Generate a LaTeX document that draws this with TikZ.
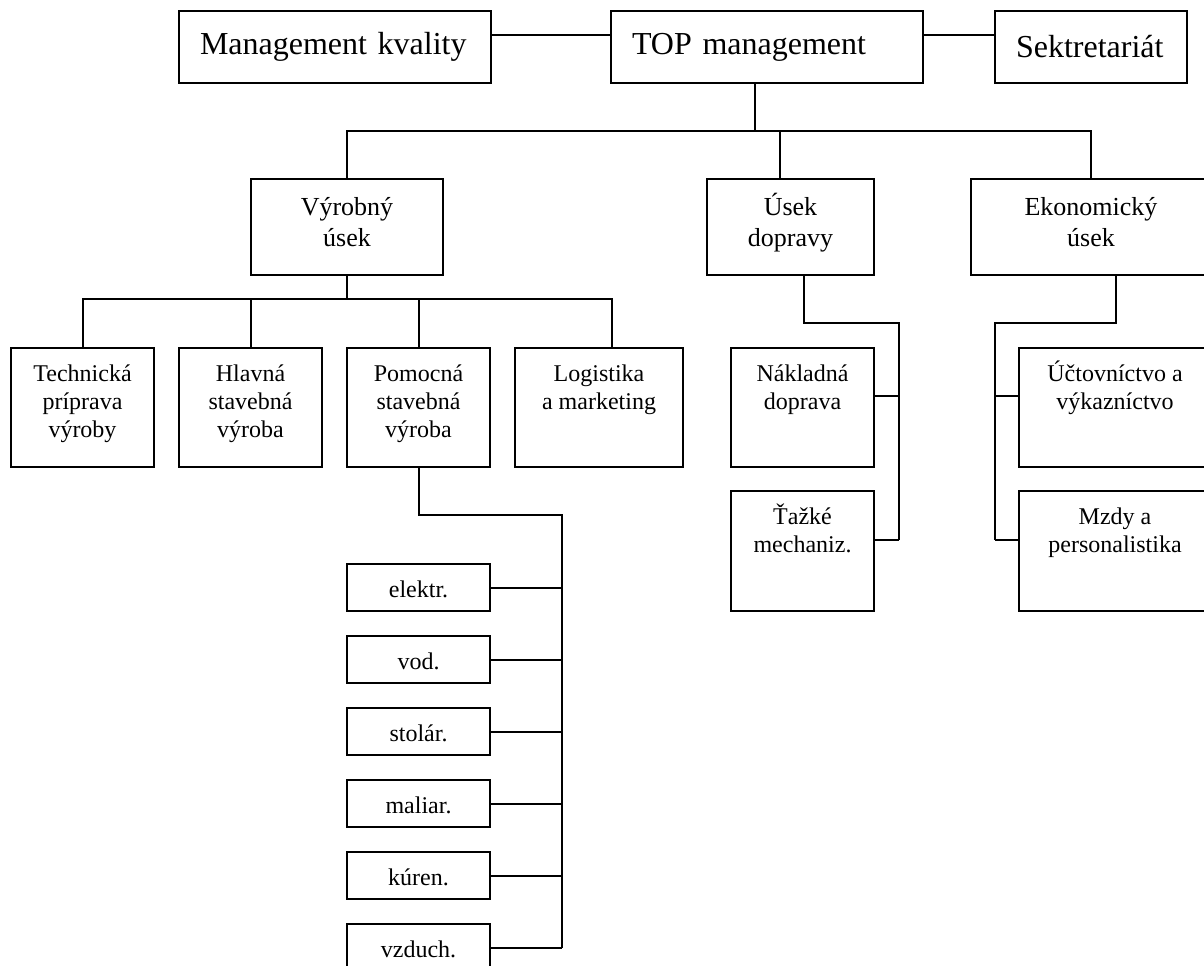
\documentclass[tikz,border=0pt]{standalone}
\usepackage{fontspec}
\setmainfont{Liberation Serif}
\newcommand{\orgtext}[4]{\parbox[t][#2][t]{#1}{\centering\rule{0pt}{#3}#4}}

\begin{document}
\begin{tikzpicture}[x=0.5pt,y=-0.5pt,line width=1pt,
    box/.style={draw,inner sep=0pt,anchor=north west},
    head/.style={draw,anchor=north west,inner xsep=10.5pt,align=left,
      minimum height=36pt,font=\fontsize{16}{19}\selectfont},
    mid/.style={box,font=\fontsize{13}{15.5}\selectfont},
    low/.style={box,font=\fontsize{12}{14}\selectfont}]
      \useasboundingbox (0,0) rectangle (1204,965) ;
      % top row
      \node[head,text width=135pt] (qual) at (178,10) {Management kvality} ;
      \node[head,text width=135pt] (top) at (610,10) {TOP management} ;
      \node[head,text width=75pt] (sekt) at (994,10) {Sektretariát} ;
      % useky
      \node[mid] (vyr) at (250,178) {\orgtext{96pt}{48pt}{18pt}{Výrobný\\úsek}} ;
      \node[mid] (dop) at (706,178) {\orgtext{83.5pt}{48pt}{18pt}{Úsek\\dopravy}} ;
      \node[mid] (eko) at (970,178) {\orgtext{120pt}{48pt}{18pt}{Ekonomický\\úsek}} ;
      % oddelenia
      \node[low] (tech) at (10,347) {\orgtext{71.5pt}{59.5pt}{16.5pt}{Technická\\príprava\\výroby}} ;
      \node[low] (hlav) at (178,347) {\orgtext{71.5pt}{59.5pt}{16.5pt}{Hlavná\\stavebná\\výroba}} ;
      \node[low] (pom) at (346,347) {\orgtext{71.5pt}{59.5pt}{16.5pt}{Pomocná\\stavebná\\výroba}} ;
      \node[low] (log) at (514,347) {\orgtext{84pt}{59.5pt}{16.5pt}{Logistika\\a marketing}} ;
      \node[low] (nak) at (730,347) {\orgtext{71.5pt}{59.5pt}{16.5pt}{Nákladná\\doprava}} ;
      \node[low] (taz) at (730,490) {\orgtext{71.5pt}{60pt}{16.5pt}{Ťažké\\mechaniz.}} ;
      \node[low] (uct) at (1018,347) {\orgtext{96pt}{59.5pt}{16.5pt}{Účtovníctvo a\\výkazníctvo}} ;
      \node[low] (mzdy) at (1018,490) {\orgtext{96pt}{60pt}{16.5pt}{Mzdy a\\personalistika}} ;
      \foreach \lbl [count=\i] in {elektr.,vod.,stolár.,maliar.,kúren.,vzduch.}
        \node[low] (s\i) at (346,491+72*\i) {\orgtext{71.5pt}{23.5pt}{16.5pt}{\lbl}} ;
      % spojnice
      \draw ([yshift=6pt]qual.east) -- ([yshift=6pt]top.west) ;
      \draw ([yshift=6pt]top.east) -- ([yshift=6pt]sekt.west) ;
      \coordinate (bus) at (755,131) ;
      \draw (bus |- top.south) -- (bus) ;
      \draw (vyr.north) |- (bus) -| (eko.north) ;
      \draw ([xshift=-5.25pt]dop.north) -- ([xshift=-5.25pt]dop.north |- bus) ;
      \coordinate (bus2) at (346,299) ;
      \draw (vyr.south) -- (vyr.south |- bus2) ;
      \draw (tech.north) |- ([xshift=6.5pt]log.north |- bus2) -- ([xshift=6.5pt]log.north) ;
      \draw (hlav.north) -- (hlav.north |- bus2) ;
      \draw (pom.north) -- (pom.north |- bus2) ;
      \coordinate (pj) at (562,515) ;
      \draw (pom.south) |- (pj) -- (pj |- s6.east) ;
      \foreach \i in {1,...,6}
        \draw (s\i.east) -- (s\i.east -| pj) ;
      \coordinate (dj) at (899,323) ;
      \draw ([xshift=6.75pt]dop.south) |- (dj) -- ([yshift=5.75pt]taz.east -| dj) ;
      \draw ([yshift=5.75pt]nak.east) -- ([yshift=5.75pt]nak.east -| dj) ;
      \draw ([yshift=5.75pt]taz.east) -- ([yshift=5.75pt]taz.east -| dj) ;
      \coordinate (ej) at (995,323) ;
      \draw ([xshift=12.5pt]eko.south) |- (ej) -- ([yshift=5.75pt]mzdy.west -| ej) ;
      \draw ([yshift=5.75pt]uct.west) -- ([yshift=5.75pt]uct.west -| ej) ;
      \draw ([yshift=5.75pt]mzdy.west) -- ([yshift=5.75pt]mzdy.west -| ej) ;
    \end{tikzpicture}
\end{document}
